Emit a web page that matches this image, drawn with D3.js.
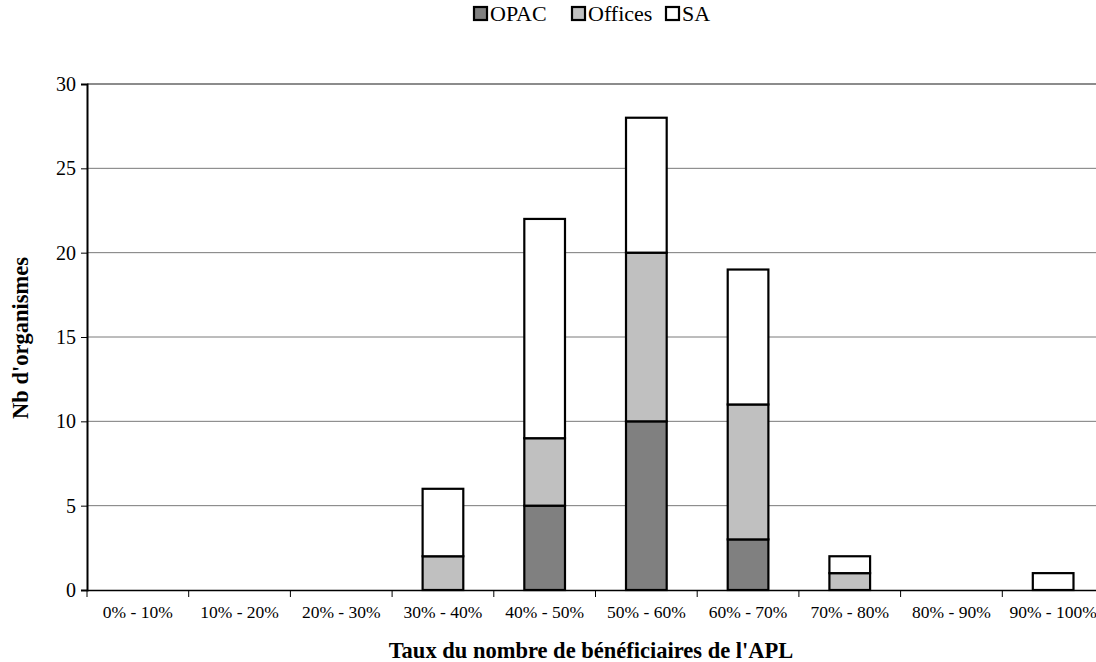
<!DOCTYPE html>
<html><head><meta charset="utf-8">
<script src="https://cdn.jsdelivr.net/npm/d3@7"></script>
<style>body{margin:0;background:#fff}svg{display:block}svg text{font-family:"Liberation Serif","Times New Roman",Times,serif}</style>
</head><body>
<svg id="c" width="1096" height="662"></svg>
<script>
const categories = ["0% - 10%","10% - 20%","20% - 30%","30% - 40%","40% - 50%","50% - 60%","60% - 70%","70% - 80%","80% - 90%","90% - 100%"];
const seriesNames = ["OPAC","Offices","SA"];
const opac    = [0,0,0,0,5,10,3,0,0,0];
const offices = [0,0,0,2,4,10,8,1,0,0];
const sa      = [0,0,0,4,13,8,8,1,0,1];
const yTicks = [0,5,10,15,20,25,30];
const colors = ["#808080","#c0c0c0","#ffffff"];

const svg = d3.select("#c");
const m = {l:87, r:1104, t:84, b:590};
const x = d3.scaleBand().domain(categories).range([m.l, m.r]).paddingInner(0.6).paddingOuter(0.3);
const xb = d3.scaleBand().domain(categories).range([m.l, m.r]);
const y = d3.scaleLinear().domain([0,30]).range([m.b, m.t]);

// gridlines
svg.append("g").selectAll("line").data(yTicks.filter(d=>d>0)).join("line")
  .attr("x1", m.l).attr("x2", m.r).attr("y1", d=>y(d)).attr("y2", d=>y(d))
  .attr("stroke", d=>d===30?"#8c8c8c":"#7a7a7a").attr("stroke-width", d=>d===30?2:1);

// stacked bars
const table = categories.map((c,i)=>({cat:c, OPAC:opac[i], Offices:offices[i], SA:sa[i]}));
const stack = d3.stack().keys(seriesNames)(table);
stack.forEach((s,si)=>{
  svg.append("g").selectAll("rect").data(s.filter(d=>d[1]-d[0]>0)).join("rect")
    .attr("x", d=>x(d.data.cat)).attr("width", x.bandwidth())
    .attr("y", d=>y(d[1])).attr("height", d=>y(d[0])-y(d[1]))
    .attr("fill", colors[si]).attr("stroke","#000").attr("stroke-width",2.2);
});

// y axis
const ya = svg.append("g").attr("transform",`translate(${m.l},0)`)
  .call(d3.axisLeft(y).tickValues(yTicks).tickSize(6).tickPadding(5));
ya.attr("font-family",null);
ya.select(".domain").attr("stroke","#000").attr("stroke-width",2);
ya.selectAll("text").attr("font-size",20).attr("fill","#000");
ya.selectAll(".tick line").attr("stroke","#000");

// x axis
const xa = svg.append("g").attr("transform",`translate(0,${m.b})`)
  .call(d3.axisBottom(xb).tickSize(0).tickPadding(16));
xa.attr("font-family",null);
xa.select(".domain").attr("stroke","#000").attr("stroke-width",1.5);
xa.selectAll("text").attr("font-size",17.5).attr("fill","#000");
svg.append("g").selectAll("line").data(categories.concat(["_end"])).join("line")
  .attr("x1",(d,i)=>m.l+i*xb.step()).attr("x2",(d,i)=>m.l+i*xb.step())
  .attr("y1",m.b).attr("y2",m.b+7).attr("stroke","#000");

// axis titles
svg.append("text").attr("x",591).attr("y",658).attr("text-anchor","middle")
  .attr("font-weight","bold").attr("font-size",22.5)
  .text("Taux du nombre de bénéficiaires de l'APL");
svg.append("text").attr("transform","translate(28,338) rotate(-90)").attr("text-anchor","middle")
  .attr("font-weight","bold").attr("font-size",22.5)
  .text("Nb d'organismes");

// legend
const legX = [474, 572, 666];
const lg = svg.append("g");
seriesNames.forEach((n,i)=>{
  lg.append("rect").attr("x",legX[i]).attr("y",7).attr("width",13).attr("height",13)
    .attr("fill",colors[i]).attr("stroke","#000").attr("stroke-width",2.2);
  lg.append("text").attr("x",legX[i]+16).attr("y",21).attr("font-size",22).text(n);
});
</script>
</body></html>
